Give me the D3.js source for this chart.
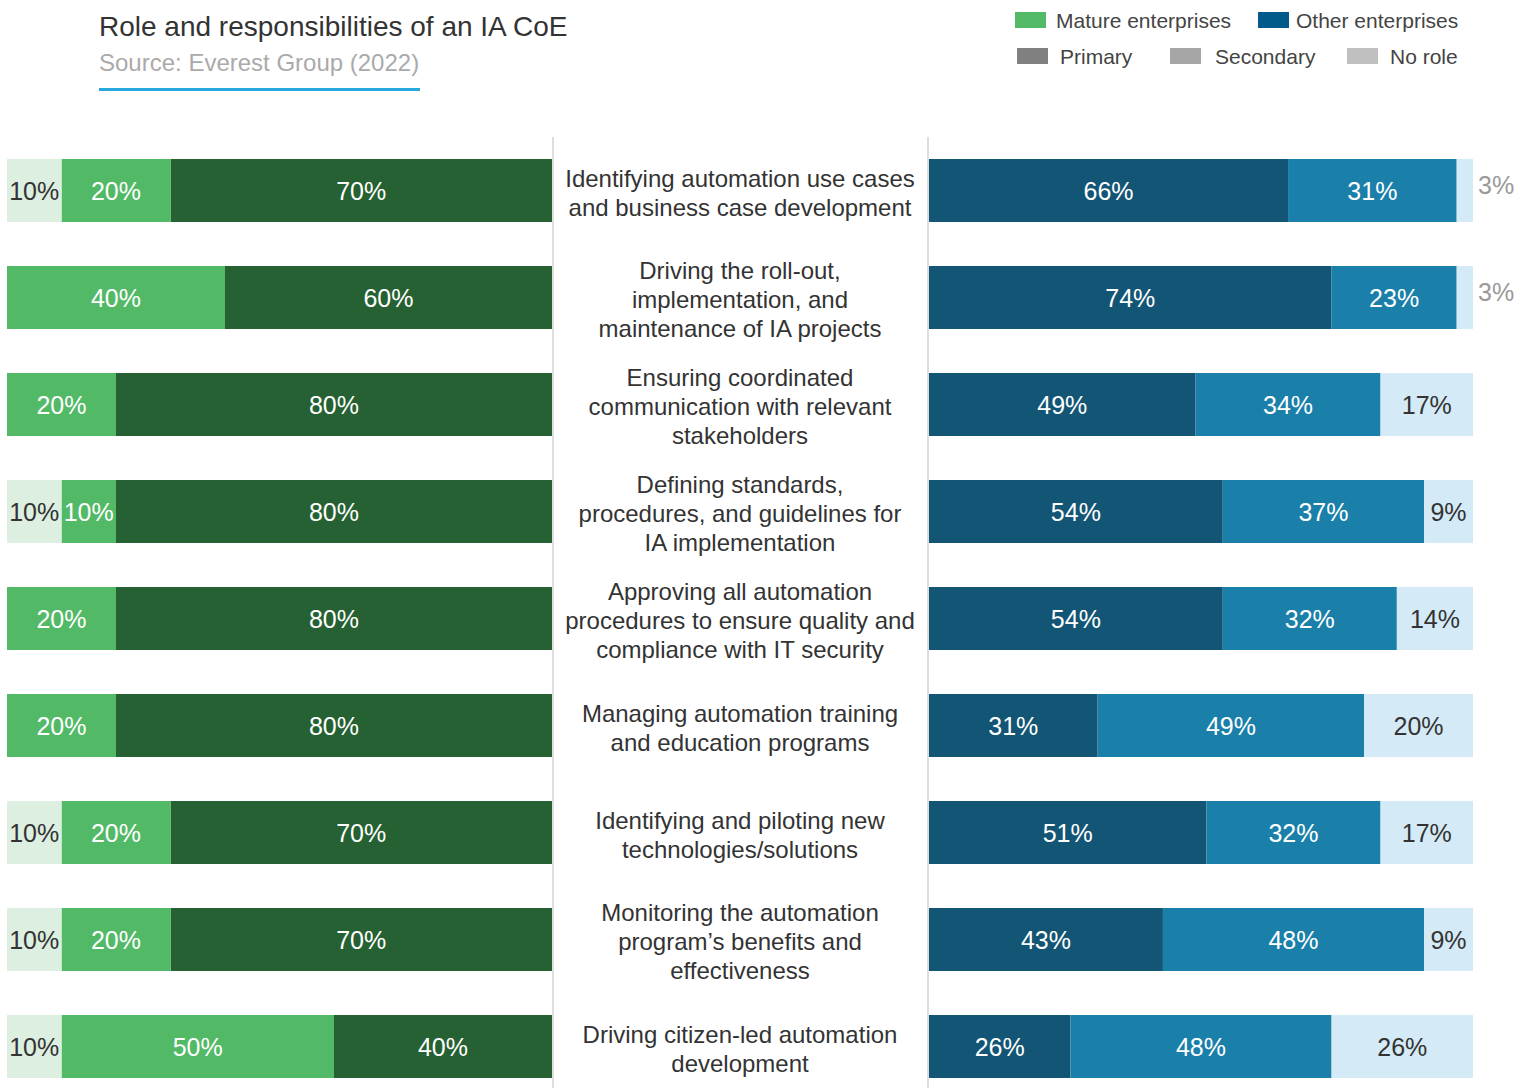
<!DOCTYPE html>
<html>
<head>
<meta charset="utf-8">
<script src="https://cdn.jsdelivr.net/npm/d3@7"></script>
<style>
  body { margin: 0; background: #fff; }
  svg text { font-family: "Liberation Sans", Arial, sans-serif; }
</style>
</head>
<body>
<svg id="chart" width="1527" height="1088"></svg>
<script>
// categories (lines of the centre labels)
const categories = [
  ["Identifying automation use cases", "and business case development"],
  ["Driving the roll-out,", "implementation, and", "maintenance of IA projects"],
  ["Ensuring coordinated", "communication with relevant", "stakeholders"],
  ["Defining standards,", "procedures, and guidelines for", "IA implementation"],
  ["Approving all automation", "procedures to ensure quality and", "compliance with IT security"],
  ["Managing automation training", "and education programs"],
  ["Identifying and piloting new", "technologies/solutions"],
  ["Monitoring the automation", "program\u2019s benefits and", "effectiveness"],
  ["Driving citizen-led automation", "development"]
];

// mature enterprises (%)
const maturePrimary   = [70, 60, 80, 80, 80, 80, 70, 70, 40];
const matureSecondary = [20, 40, 20, 10, 20, 20, 20, 20, 50];
const matureNoRole    = [10, 0, 0, 10, 0, 0, 10, 10, 10];

// other enterprises (%)
const otherPrimary   = [66, 74, 49, 54, 54, 31, 51, 43, 26];
const otherSecondary = [31, 23, 34, 37, 32, 49, 32, 48, 48];
const otherNoRole    = [3, 3, 17, 9, 14, 20, 17, 9, 26];

const svg = d3.select('#chart');

let y = d3.scaleBand()
    .domain(d3.range(categories.length))
    .range([159, 1078])
    .paddingInner(44 / 107)
    .paddingOuter(0);

let xL = d3.scaleLinear().domain([0, 100]).range([552, 7]);   // left chart grows to the left
let xR = d3.scaleLinear().domain([0, 100]).range([929, 1473]);

// divider lines
[553, 928].forEach(x => {
    svg.append('line')
        .attr('x1', x).attr('x2', x).attr('y1', 137).attr('y2', 1088)
        .attr('stroke', '#dddddd').attr('stroke-width', 2);
});

// left side: primary from the middle, then secondary, then no role
let leftKeys = ['primary', 'secondary', 'noRole'];
let leftColor = { primary: '#256132', secondary: '#52b966', noRole: '#dcefe0' };
let leftText = { primary: '#ffffff', secondary: '#ffffff', noRole: '#333333' };
let leftRows = categories.map((c, i) => ({ primary: maturePrimary[i], secondary: matureSecondary[i], noRole: matureNoRole[i] }));
let leftStack = d3.stack().keys(leftKeys)(leftRows);

let gL = svg.append('g');
leftStack.forEach(layer => {
    let key = layer.key;
    layer.forEach((d, i) => {
        if (d[1] - d[0] <= 0) return;
        gL.append('rect')
            .attr('x', xL(d[1]))
            .attr('y', y(i))
            .attr('width', xL(d[0]) - xL(d[1]))
            .attr('height', y.bandwidth())
            .attr('fill', leftColor[key]);
        gL.append('text')
            .attr('x', (xL(d[0]) + xL(d[1])) / 2)
            .attr('y', y(i) + y.bandwidth() / 2)
            .attr('dy', '0.36em')
            .attr('text-anchor', 'middle')
            .attr('font-size', 25)
            .attr('fill', leftText[key])
            .text((d[1] - d[0]) + '%');
    });
});

// right side
let rightKeys = ['primary', 'secondary', 'noRole'];
let rightColor = { primary: '#135574', secondary: '#1a80aa', noRole: '#d4ebf7' };
let rightText = { primary: '#ffffff', secondary: '#ffffff', noRole: '#333333' };
let rightRows = categories.map((c, i) => ({ primary: otherPrimary[i], secondary: otherSecondary[i], noRole: otherNoRole[i] }));
let rightStack = d3.stack().keys(rightKeys)(rightRows);

let gR = svg.append('g');
rightStack.forEach(layer => {
    let key = layer.key;
    layer.forEach((d, i) => {
        let v = d[1] - d[0];
        if (v <= 0) return;
        gR.append('rect')
            .attr('x', xR(d[0]))
            .attr('y', y(i))
            .attr('width', xR(d[1]) - xR(d[0]))
            .attr('height', y.bandwidth())
            .attr('fill', rightColor[key]);
        // too narrow -> put label outside in grey
        let small = v < 5;
        gR.append('text')
            .attr('x', small ? xR(d[1]) + 5 : (xR(d[0]) + xR(d[1])) / 2)
            .attr('y', y(i) + y.bandwidth() / 2 + (small ? -6 : 0))
            .attr('dy', '0.36em')
            .attr('text-anchor', small ? 'start' : 'middle')
            .attr('font-size', 25)
            .attr('fill', small ? '#999999' : rightText[key])
            .text(v + '%');
    });
});

// centre labels
let gC = svg.append('g');
categories.forEach((lines, i) => {
    let cy = y(i) + y.bandwidth() / 2 + 2;
    let lh = 29;
    lines.forEach((ln, j) => {
        gC.append('text')
            .attr('x', 740)
            .attr('y', cy + (j - (lines.length - 1) / 2) * lh)
            .attr('dy', '0.36em')
            .attr('text-anchor', 'middle')
            .attr('font-size', 24)
            .attr('fill', '#333333')
            .text(ln);
    });
});

// title
svg.append('text').attr('x', 99).attr('y', 36)
    .attr('font-size', 28).attr('fill', '#333333')
    .text('Role and responsibilities of an IA CoE');
svg.append('text').attr('x', 99).attr('y', 71)
    .attr('font-size', 24).attr('fill', '#aaaaaa')
    .text('Source: Everest Group (2022)');
svg.append('rect').attr('x', 99).attr('y', 88).attr('width', 321).attr('height', 3)
    .attr('fill', '#29a8e0');

// legend
let legendItems = [
    { label: 'Mature enterprises', color: '#52b966', x: 1015, y: 12, tx: 1056 },
    { label: 'Other enterprises', color: '#005a8a', x: 1258, y: 12, tx: 1296 },
    { label: 'Primary', color: '#808080', x: 1017, y: 48, tx: 1060 },
    { label: 'Secondary', color: '#a6a6a6', x: 1170, y: 48, tx: 1215 },
    { label: 'No role', color: '#c0c0c0', x: 1347, y: 48, tx: 1390 }
];
let gLeg = svg.append('g');
legendItems.forEach(d => {
    gLeg.append('rect').attr('x', d.x).attr('y', d.y).attr('width', 31).attr('height', 16).attr('fill', d.color);
    gLeg.append('text').attr('x', d.tx).attr('y', d.y + 8).attr('dy', '0.36em')
        .attr('font-size', 21).attr('fill', '#444444').text(d.label);
});
</script>
</body>
</html>
